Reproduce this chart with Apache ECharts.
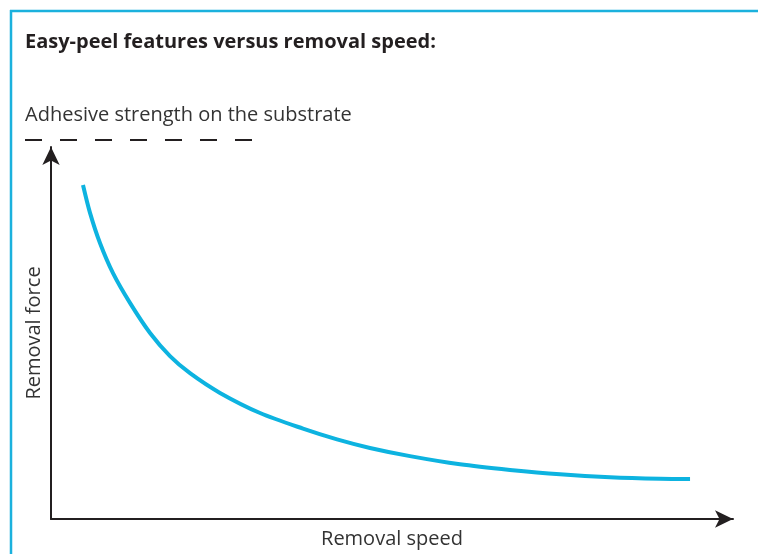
<!DOCTYPE html>
<html>
<head>
<meta charset="utf-8">
<script src="https://cdn.jsdelivr.net/npm/echarts@6/dist/echarts.min.js"></script>
<style>
  html, body { margin: 0; padding: 0; background: #fff; }
  #chart { width: 758px; height: 554px; }
</style>
</head>
<body>
<div id="chart"></div>
<script>
// removal speed (0..100) vs removal force (0..100)
const speed = [4.69, 5.72, 7.18, 9.09, 11.58, 14.52, 17.45, 20.38, 24.78, 30.65, 36.95, 41.94, 46.77, 52.64, 59.97, 67.3, 74.63, 81.96, 89.3, 93.7]
const force = [89.8, 82.3, 74.2, 66.1, 58.1, 50.0, 43.8, 39.2, 33.9, 28.5, 24.3, 21.4, 19.1, 16.9, 14.7, 13.2, 12.0, 11.2, 10.8, 10.75]

const titleText = 'Easy-peel features versus removal speed:'
const levelText = 'Adhesive strength on the substrate'
const xName = 'Removal speed'
const yName = 'Removal force'

const ink = '#231f20'
const cyan = '#0db3e0'

const chart = echarts.init(document.getElementById('chart'))

const option = {
  backgroundColor: '#fff',
  animation: false,
  textStyle: { fontFamily: 'Open Sans' },
  grid: { left: 51, right: 25, top: 147, bottom: 35, outerBoundsMode: 'none' },
  xAxis: {
    type: 'value',
    min: 0,
    max: 100,
    name: xName,
    nameLocation: 'middle',
    nameGap: 10,
    nameTextStyle: { fontSize: 20, color: '#333', fontFamily: 'Open Sans' },
    axisLine: { lineStyle: { color: ink, width: 2 }, symbol: ['none', 'arrow'], symbolSize: [13, 18] },
    axisTick: { show: false },
    axisLabel: { show: false },
    splitLine: { show: false }
  },
  yAxis: {
    type: 'value',
    min: 0,
    max: 100,
    name: yName,
    nameLocation: 'middle',
    nameGap: 7,
    nameTextStyle: { fontSize: 20, color: '#333', fontFamily: 'Open Sans' },
    axisLine: { show: true, lineStyle: { color: ink, width: 2 }, symbol: ['none', 'arrow'], symbolSize: [13, 18] },
    axisTick: { show: false },
    axisLabel: { show: false },
    splitLine: { show: false }
  },
  series: [{
    type: 'line',
    data: speed.map((s, i) => [s, force[i]]),
    smooth: 0.3,
    showSymbol: false,
    lineStyle: { color: cyan, width: 4, cap: 'butt' }
  }],
  graphic: [
    // frame lines
    { type: 'line', shape: { x1: 10, y1: 11, x2: 758, y2: 11 }, style: { stroke: '#1bb1dd', lineWidth: 2.5 } },
    { type: 'line', shape: { x1: 11, y1: 10, x2: 11, y2: 554 }, style: { stroke: '#1bb1dd', lineWidth: 2.5 } },
    {
      type: 'text', left: 25, top: 32,
      style: { text: titleText, font: 'bold 20px "Open Sans"', fill: '#231f20' }
    },
    {
      type: 'text', left: 25, top: 105,
      style: { text: levelText, font: '20px "Open Sans"', fill: '#333' }
    },
    {
      type: 'line', shape: { x1: 25, y1: 140, x2: 252, y2: 140 },
      style: { stroke: ink, lineWidth: 2, lineDash: [17, 18] }
    }
  ]
}
chart.setOption(option)
</script>
</body>
</html>
